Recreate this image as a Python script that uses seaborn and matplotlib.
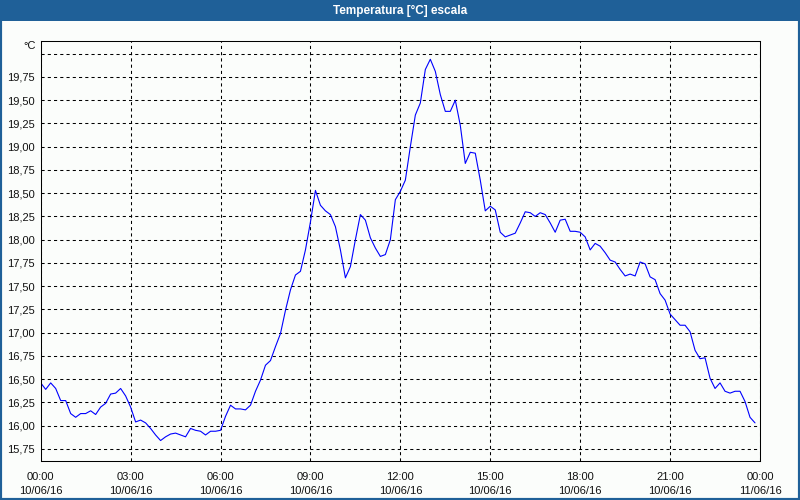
import matplotlib
matplotlib.use("Agg")
import matplotlib.pyplot as plt
import matplotlib.dates as mdates
from matplotlib.patches import Rectangle
import seaborn as sns
import pandas as pd

# temperature readings every 10 minutes, 10/06/16 00:00 .. 23:50
temps = [
    16.46, 16.39, 16.46, 16.40, 16.27, 16.27, 16.13, 16.09, 16.13, 16.13,
    16.16, 16.12, 16.20, 16.24, 16.34, 16.35, 16.40, 16.32, 16.20, 16.04,
    16.06, 16.03, 15.97, 15.90, 15.84, 15.88, 15.91, 15.92, 15.90, 15.88,
    15.97, 15.95, 15.94, 15.90, 15.94, 15.94, 15.95, 16.10, 16.22, 16.18,
    16.18, 16.17, 16.22, 16.37, 16.49, 16.65, 16.70, 16.85, 16.99, 17.24,
    17.46, 17.62, 17.66, 17.89, 18.19, 18.53, 18.37, 18.31, 18.27, 18.14,
    17.89, 17.59, 17.71, 18.00, 18.27, 18.21, 18.02, 17.91, 17.82, 17.84,
    18.00, 18.43, 18.52, 18.64, 19.00, 19.34, 19.47, 19.83, 19.94, 19.81,
    19.56, 19.38, 19.38, 19.50, 19.23, 18.82, 18.94, 18.93, 18.64, 18.31,
    18.36, 18.32, 18.08, 18.03, 18.05, 18.07, 18.18, 18.30, 18.29, 18.25,
    18.29, 18.27, 18.18, 18.08, 18.21, 18.22, 18.09, 18.09, 18.08, 18.03,
    17.89, 17.96, 17.93, 17.86, 17.78, 17.76, 17.68, 17.61, 17.63, 17.61,
    17.76, 17.74, 17.60, 17.57, 17.42, 17.35, 17.20, 17.14, 17.08, 17.08,
    17.01, 16.81, 16.72, 16.73, 16.51, 16.40, 16.46, 16.37, 16.35, 16.37,
    16.37, 16.26, 16.09, 16.03,
]
times = pd.date_range("2016-06-10 00:00", periods=len(temps), freq="10min")

y_ticks = [15.75, 16.00, 16.25, 16.50, 16.75, 17.00, 17.25, 17.50, 17.75,
           18.00, 18.25, 18.50, 18.75, 19.00, 19.25, 19.50, 19.75, 20.00]
y_tick_labels = ["15,75", "16,00", "16,25", "16,50", "16,75", "17,00", "17,25",
                 "17,50", "17,75", "18,00", "18,25", "18,50", "18,75", "19,00",
                 "19,25", "19,50", "19,75", ""]
x_ticks = pd.date_range("2016-06-10 00:00", "2016-06-11 00:00", freq="3h")
x_tick_labels = ["00:00\n10/06/16", "03:00\n10/06/16", "06:00\n10/06/16",
                 "09:00\n10/06/16", "12:00\n10/06/16", "15:00\n10/06/16",
                 "18:00\n10/06/16", "21:00\n10/06/16", "00:00\n11/06/16"]

bg = "#fbfdfb"
bar_blue = "#1f6098"

sns.set_style("white")
plt.rcParams["font.family"] = ["Liberation Sans", "DejaVu Sans"]
plt.rcParams["font.size"] = 8

fig = plt.figure(figsize=(8, 5), dpi=100, facecolor=bg)
ax = fig.add_axes([40.7 / 800, 39 / 500, (760 - 40.7) / 800, (461 - 40.5) / 500])
ax.set_facecolor(bg)

sns.lineplot(x=times, y=temps, ax=ax, color="#0000ff", linewidth=0.8)

ax.set_xlim(x_ticks[0], x_ticks[-1])
ax.set_ylim(15.62, 20.142)
ax.set_yticks(y_ticks)
ax.set_yticklabels(y_tick_labels)
ax.set_xticks(x_ticks)
ax.set_xticklabels(x_tick_labels, linespacing=1.45)
ax.xaxis.set_minor_locator(mdates.HourLocator())
ax.set_xlabel("")
ax.set_ylabel("")

ax.tick_params(axis="x", which="both", direction="out", length=3, width=0.75,
               pad=5, colors="black", labelcolor="#111111")
ax.tick_params(axis="y", length=0, pad=4, labelcolor="#111111")
ax.grid(True, which="major", color="black", linestyle=(0, (3, 3)), linewidth=0.75)
for s in ax.spines.values():
    s.set_visible(True)
    s.set_color("black")
    s.set_linewidth(0.75)

fig.text(36 / 800, 1 - 46 / 500, "°C", ha="right", va="center", color="#111111")

# title bar and window frame
fig.patches.append(Rectangle((0, 1 - 21 / 500), 1, 21 / 500, transform=fig.transFigure,
                             facecolor=bar_blue, edgecolor="none", zorder=0))
fig.text(0.5, 1 - 10.5 / 500, "Temperatura [°C] escala", ha="center", va="center",
         color="white", fontweight="bold", fontsize=8.5)
fig.patches.append(Rectangle((0, 0), 1, 1, transform=fig.transFigure, fill=False,
                             edgecolor=bar_blue, linewidth=3, zorder=5))

fig.savefig("out.png", dpi=100, facecolor=bg)
